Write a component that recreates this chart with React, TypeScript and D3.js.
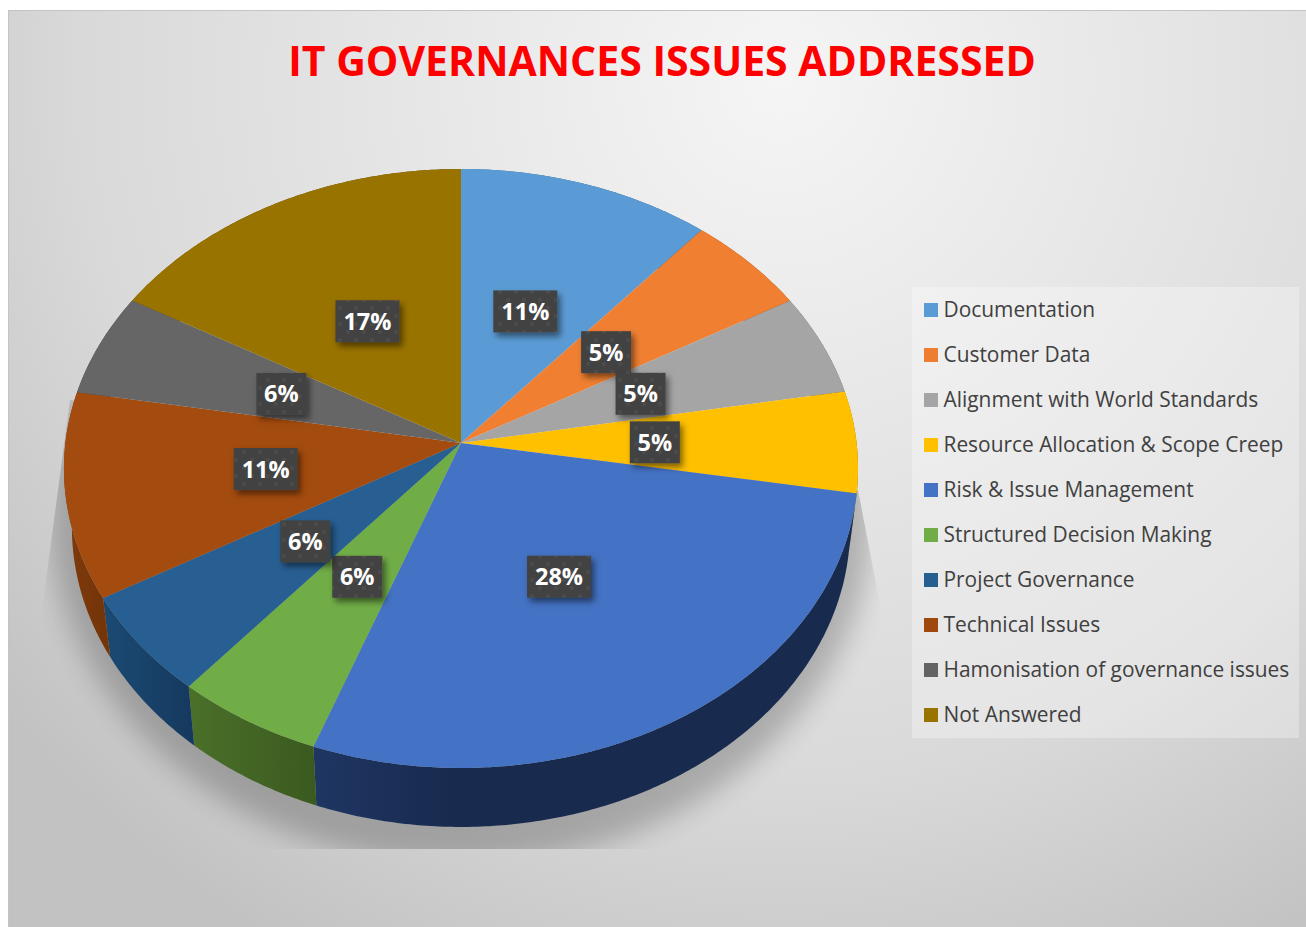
import React from "react";
import * as d3 from "d3";

// Survey results: share of responses per governance issue (percent).
const categories = [
  "Documentation",
  "Customer Data",
  "Alignment with World Standards",
  "Resource Allocation & Scope Creep",
  "Risk & Issue Management",
  "Structured Decision Making",
  "Project Governance",
  "Technical Issues",
  "Hamonisation of governance issues",
  "Not Answered",
];
const shares = [11.2, 5.49, 5.49, 5.49, 27.9, 5.55, 5.55, 11.1, 5.55, 16.67];

const topColors = ["#5b9bd5", "#f07f31", "#a5a5a5", "#ffc000", "#4472c4", "#70ad47", "#275f92", "#a44b0f", "#666666", "#997300"];
const legendColors = ["#5b9bd5", "#ed7d31", "#a5a5a5", "#ffc000", "#4472c4", "#70ad47", "#255e91", "#9e480e", "#636363", "#997300"];
const wallNear = ["#3a6a92", "#a35620", "#6f6f6f", "#a87f00", "#1f3663", "#4a7029", "#1b4a73", "#7e3a0b", "#444444", "#665000"];
const wallFar = ["#2f5778", "#87461a", "#5c5c5c", "#8c6a00", "#182b4f", "#3b5a20", "#163a5f", "#753509", "#3a3a3a", "#554300"];

const W = 1306;
const H = 927;
const fontStack = "'Open Sans', sans-serif";

// Perspective projection of the pie's disc, apex at the slice meeting point.
const apexX = 461;
const apexY = 443;
const scaleU = 395.6;
const scaleV = 297.3;
const tilt = 0.0851;
const wallDrop = 59;
const wallTaper = 0.98;
const labelRadius = 0.49;

function project(angle: number, f = 1): [number, number] {
  const u = Math.sin(angle) * f;
  const v = -Math.cos(angle) * f;
  const d = 1 - tilt * v;
  return [(scaleU * u) / d, (scaleV * v) / d];
}
const toX = d3.scaleLinear().domain([0, 1]).range([apexX, apexX + 1]);
const toY = d3.scaleLinear().domain([0, 1]).range([apexY, apexY + 1]);
const toPx = ([x, y]: [number, number]): [number, number] => [toX(x), toY(y)];
const toLowerPx = ([x, y]: [number, number]): [number, number] => [toX(x * wallTaper), toY(y) + wallDrop];

function rim(start: number, end: number): number[] {
  const n = Math.max(2, Math.ceil((end - start) / 0.01));
  return d3.range(n + 1).map((i) => start + ((end - start) * i) / n);
}

const pie = d3
  .pie<number>()
  .sort(null)
  .startAngle(0)
  .endAngle(2 * Math.PI);
const arcs = pie(shares);
const line = d3.line();

const topPath = (a: d3.PieArcDatum<number>) =>
  line([[apexX, apexY], ...rim(a.startAngle, a.endAngle).map((t) => toPx(project(t)))]) + "Z";
const wallPath = (a: d3.PieArcDatum<number>) => {
  const ts = rim(a.startAngle, a.endAngle);
  return line([...ts.map((t) => toPx(project(t))), ...ts.slice().reverse().map((t) => toLowerPx(project(t)))]) + "Z";
};

// Label anchor: halfway out along the slice, nudged on the near side of the disc.
function labelAnchor(mid: number): [number, number] {
  const [x, y] = toPx(project(mid, labelRadius));
  const nearLeft = mid > Math.PI * 0.7 && mid < Math.PI * 1.5;
  return [x - (nearLeft ? 3 : 0), y + 3.5 * Math.max(0, -Math.cos(mid))];
}

const legendY = d3.scalePoint<string>().domain(categories).range([310, 715]);

export default function App() {
  return (
    <svg width={W} height={H} style={{ position: "absolute", left: 0, top: 0, display: "block" }}>
      <defs>
        <radialGradient id="bg" gradientUnits="userSpaceOnUse" cx={780} cy={80} r={1000}>
          <stop offset="0" stopColor="#f5f5f5" />
          <stop offset="0.3" stopColor="#e9e9e9" />
          <stop offset="0.7" stopColor="#d9d9d9" />
          <stop offset="1" stopColor="#c2c2c2" />
        </radialGradient>
        <filter id="shadowBlur" x="-10%" y="-10%" width="120%" height="120%">
          <feGaussianBlur stdDeviation={14} />
        </filter>
        <clipPath id="shadowClip">
          <path d="M70,400 L38,640 L38,849 L883,849 L883,620 L858,490 Z" />
        </clipPath>
        <pattern id="dots" width={16} height={16} patternUnits="userSpaceOnUse">
          <rect width={16} height={16} fill="#424242" />
          <circle cx={4} cy={4} r={2} fill="#4c4c4c" />
          <circle cx={12} cy={12} r={2} fill="#4c4c4c" />
        </pattern>
        <filter id="labelShadow" x="-30%" y="-30%" width="170%" height="170%">
          <feDropShadow dx={3} dy={4} stdDeviation={3} floodColor="#000" floodOpacity={0.5} />
        </filter>
        {arcs.map((a, i) => {
          const xs = rim(a.startAngle, a.endAngle).map((t) => toPx(project(t))[0]);
          const [x0, x1] = d3.extent(xs) as [number, number];
          return (
            <linearGradient key={i} id={`wall${i}`} gradientUnits="userSpaceOnUse" x1={x0} x2={x1} y1={0} y2={0}>
              <stop offset="0" stopColor={wallNear[i]} />
              <stop offset={i === 4 ? 0.25 : 1} stopColor={wallFar[i]} />
            </linearGradient>
          );
        })}
      </defs>

      <rect x={8.5} y={10.5} width={W} height={H} fill="url(#bg)" stroke="#c4c4c4" />

      <text x={662} y={76} textAnchor="middle" fontFamily={fontStack} fontWeight={700} fontSize={41} fill="#ff0000">
        IT GOVERNANCES ISSUES ADDRESSED
      </text>

      <g clipPath="url(#shadowClip)">
        <ellipse cx={461} cy={510} rx={412} ry={355} fill="#000" opacity={0.22} filter="url(#shadowBlur)" />
      </g>

      <g>
        {arcs.map((a, i) => (
          <path key={i} d={wallPath(a)} fill={`url(#wall${i})`} />
        ))}
      </g>
      <g>
        {arcs.map((a, i) => (
          <path key={i} d={topPath(a)} fill={topColors[i]} />
        ))}
      </g>

      <g>
        {arcs.map((a, i) => {
          const [cx, cy] = labelAnchor((a.startAngle + a.endAngle) / 2);
          const label = `${Math.round(a.value)}%`;
          const w = label.length > 2 ? 64 : 50;
          const h = 42;
          return (
            <g key={i}>
              <rect x={cx - w / 2} y={cy - h / 2} width={w} height={h} fill="url(#dots)" filter="url(#labelShadow)" />
              <text x={cx} y={cy + 8.5} textAnchor="middle" fontFamily={fontStack} fontWeight={700} fontSize={23.5} fill="#ffffff">
                {label}
              </text>
            </g>
          );
        })}
      </g>

      <rect x={912} y={287} width={387} height={451} fill="#ffffff" opacity={0.3} />
      <g>
        {categories.map((c, i) => {
          const y = legendY(c) as number;
          return (
            <g key={c}>
              <rect x={924} y={y - 7} width={14} height={14} fill={legendColors[i]} />
              <text x={943.5} y={y + 7} fontFamily={fontStack} fontSize={20.9} fill="#404040">
                {c}
              </text>
            </g>
          );
        })}
      </g>
    </svg>
  );
}
